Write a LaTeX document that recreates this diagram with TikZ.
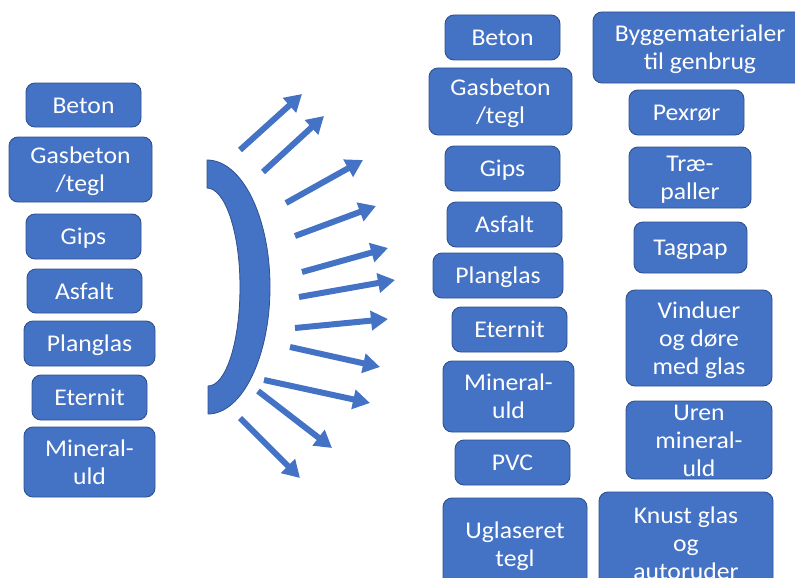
\documentclass[tikz,border=0pt]{standalone}
\usepackage{fontspec}
\setmainfont{Carlito}[FakeStretch=1.07]
\usetikzlibrary{arrows.meta}
\definecolor{boxblue}{HTML}{4472C4}
\definecolor{edgeblue}{HTML}{2F528F}
\newcommand\tstrut{\rule{0pt}{23pt}}
\tikzset{
  box/.style={draw=edgeblue, line width=0.9pt, fill=boxblue, rounded corners=9pt,
    text=white, align=center, inner xsep=0pt, inner ysep=-6pt,
    font=\fontsize{24}{28}\selectfont,
    execute at begin node={\tstrut},
    execute at end node={\rule[-7pt]{0pt}{7pt}}},
  burst/.style={draw=boxblue, line width=6pt,
    -{Triangle[length=17pt,width=19pt]}},
}
\begin{document}
\begin{tikzpicture}[x=1pt,y=-1pt]
\useasboundingbox (0,0) rectangle (795,578);
% left column
\node[box, minimum width=115, minimum height=44] (lbeton) at (83.5,105) {Beton};
\node[box, minimum width=143, minimum height=65] (lgas) at (80.5,169.5) {\tstrut Gasbeton\\/tegl};
\node[box, minimum width=115, minimum height=45] (lgips) at (83.5,236.5) {Gips};
\node[box, minimum width=115, minimum height=44] (lasfalt) at (84.5,291) {Asfalt};
\node[box, minimum width=131, minimum height=45] (lplan) at (89.5,343.5) {Planglas};
\node[box, minimum width=115, minimum height=45] (leternit) at (89.5,397.5) {Eternit};
\node[box, minimum width=131, minimum height=70] (lmin) at (89.5,462) {\tstrut Mineral-\\uld};
% middle column
\node[box, minimum width=115, minimum height=45] (mbeton) at (502.5,37.5) {Beton};
\node[box, minimum width=143, minimum height=67] (mgas) at (500.5,101.5) {\tstrut Gasbeton\\/tegl};
\node[box, minimum width=115, minimum height=45] (mgips) at (502.5,168.5) {Gips};
\node[box, minimum width=115, minimum height=45] (masfalt) at (504.5,224.5) {Asfalt};
\node[box, minimum width=130, minimum height=45] (mplan) at (498,275.5) {Planglas};
\node[box, minimum width=115, minimum height=45] (meternit) at (509.5,329.5) {Eternit};
\node[box, minimum width=131, minimum height=71] (mmin) at (508.5,396.5) {\tstrut Mineral-\\uld};
\node[box, minimum width=115, minimum height=45] (mpvc) at (512.5,462.5) {PVC};
\node[box, minimum width=144, minimum height=92] (mugl) at (515,544) {\tstrut Uglaseret\\tegl};
% right column
\node[box, minimum width=214, minimum height=71] (rbyg) at (700,47.5) {\tstrut Byggematerialer\\til genbrug};
\node[box, minimum width=115, minimum height=45] (rpex) at (686.5,112.5) {Pexrør};
\node[box, minimum width=122, minimum height=61] (rtrae) at (690,177.5) {\tstrut Træ-\\paller};
\node[box, minimum width=113, minimum height=51] (rtag) at (690.5,247.5) {Tagpap};
\node[box, minimum width=146, minimum height=96] (rvin) at (699,338) {\tstrut Vinduer\\og døre\\med glas};
\node[box, minimum width=146, minimum height=78] (ruren) at (699,440) {\tstrut Uren\\mineral-\\uld};
\node[box, minimum width=174, minimum height=102] (rknust) at (686,543) {\tstrut Knust glas\\og\\autoruder};
% crescent
\filldraw[fill=boxblue, draw=edgeblue, line width=0.8pt]
  (207,160) .. controls (242,160) and (270,217) .. (270,287)
  .. controls (270,357) and (242,414) .. (208,414)
  -- (208,386) .. controls (226,386) and (240,342) .. (240,287)
  .. controls (240,232) and (225,188) .. (207,188) -- cycle;
% arrows
\coordinate (a1s) at (240,150); \coordinate (a1e) at (302,94);
\coordinate (a2s) at (263,172); \coordinate (a2e) at (324,116);
\coordinate (a3s) at (286,203); \coordinate (a3e) at (363,160);
\coordinate (a4s) at (295,236); \coordinate (a4e) at (376,206);
\coordinate (a5s) at (302,272); \coordinate (a5e) at (388,248);
\coordinate (a6s) at (299,297); \coordinate (a6e) at (395,280);
\coordinate (a7s) at (295,328); \coordinate (a7e) at (388,319);
\coordinate (a8s) at (290,347); \coordinate (a8e) at (380,367);
\coordinate (a9s) at (264,380); \coordinate (a9e) at (370,403);
\coordinate (a10s) at (258,391); \coordinate (a10e) at (332,448);
\coordinate (a11s) at (240,418); \coordinate (a11e) at (300,478);
\foreach \i in {1,...,11} {\draw[burst] (a\i s) -- (a\i e);}
\end{tikzpicture}
\end{document}
